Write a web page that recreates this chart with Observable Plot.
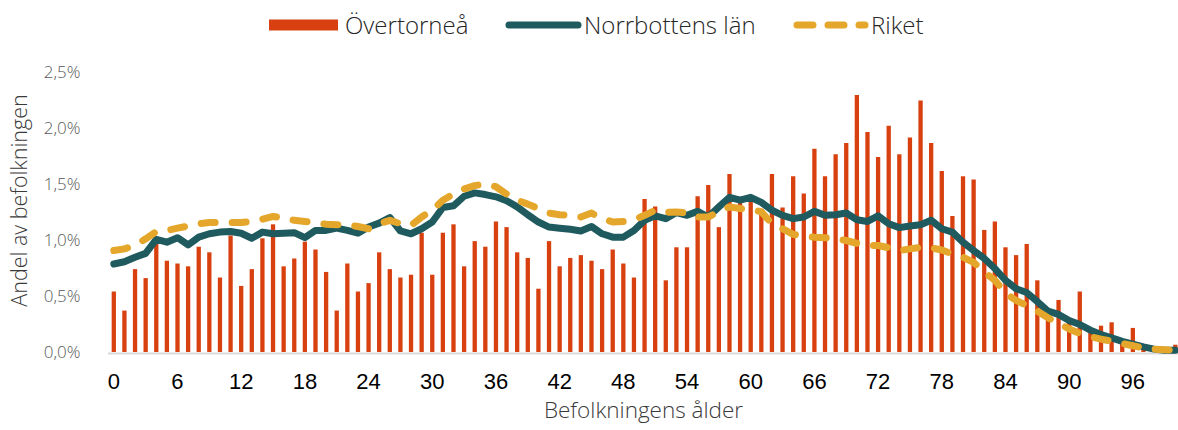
<!DOCTYPE html>
<html><head><meta charset="utf-8">
<script src="https://cdn.jsdelivr.net/npm/d3@7"></script>
<script src="https://cdn.jsdelivr.net/npm/@observablehq/plot@0.6"></script>
<style>
body{margin:0;background:#fff;width:1178px;height:430px;overflow:hidden;font-family:"Open Sans",sans-serif;}
#legend{position:relative;height:50px;}
.lt{position:absolute;top:25px;transform:translateY(-50%);font-size:24px;font-weight:300;color:#262626;line-height:1;white-space:nowrap;}
.sw{position:absolute;}
</style></head><body>
<div id="legend"></div><div id="chart"></div>
<script>
const seriesNames = ["Övertorneå", "Norrbottens län", "Riket"];
const ages = d3.range(0, 101);
const overtornea = [0.54,0.37,0.74,0.66,0.98,0.815,0.79,0.765,0.94,0.89,
0.665,1.04,0.59,0.74,1.015,1.14,0.765,0.835,0.985,0.915,
0.715,0.37,0.79,0.54,0.615,0.89,0.74,0.665,0.69,1.065,
0.69,1.065,1.14,0.765,0.99,0.94,1.165,1.115,0.89,0.84,
0.565,0.99,0.765,0.84,0.865,0.815,0.74,0.915,0.79,0.665,
1.365,1.30,0.64,0.935,0.935,1.39,1.49,1.115,1.59,1.35,
1.35,1.28,1.59,1.29,1.57,1.415,1.815,1.57,1.765,1.865,
2.295,1.965,1.74,2.02,1.765,1.915,2.245,1.865,1.615,1.215,
1.57,1.54,1.09,1.165,0.935,0.865,0.965,0.64,0.38,0.465,
0.27,0.54,0.17,0.235,0.265,0.115,0.215,0.06,0.03,0.02,0.065];
const norrbotten = [0.79,0.81,0.85,0.885,1.01,0.985,1.025,0.96,1.03,1.06,
1.075,1.08,1.065,1.02,1.075,1.06,1.065,1.07,1.025,1.09,
1.09,1.11,1.09,1.065,1.12,1.155,1.205,1.085,1.06,1.105,
1.165,1.295,1.31,1.395,1.425,1.41,1.39,1.355,1.30,1.23,
1.165,1.12,1.11,1.10,1.085,1.125,1.06,1.03,1.03,1.09,
1.18,1.22,1.195,1.25,1.225,1.26,1.21,1.30,1.385,1.36,
1.385,1.34,1.27,1.225,1.195,1.21,1.26,1.225,1.23,1.245,
1.185,1.17,1.22,1.15,1.115,1.13,1.14,1.18,1.105,1.075,
0.985,0.91,0.84,0.75,0.645,0.57,0.535,0.455,0.37,0.34,
0.285,0.25,0.20,0.16,0.13,0.10,0.075,0.05,0.03,0.02,0.02];
const riket = [0.91,0.925,0.955,1.015,1.08,1.09,1.11,1.13,1.15,1.16,
1.16,1.16,1.16,1.17,1.19,1.215,1.20,1.18,1.17,1.16,
1.145,1.14,1.14,1.125,1.105,1.15,1.18,1.15,1.135,1.21,
1.27,1.36,1.415,1.46,1.49,1.505,1.48,1.415,1.36,1.325,
1.285,1.245,1.23,1.225,1.21,1.245,1.195,1.165,1.17,1.185,
1.225,1.27,1.25,1.255,1.245,1.21,1.21,1.255,1.30,1.285,
1.28,1.255,1.15,1.105,1.055,1.04,1.03,1.025,1.015,1.00,
0.975,0.955,0.955,0.935,0.91,0.925,0.94,0.935,0.915,0.88,
0.85,0.805,0.72,0.645,0.53,0.465,0.42,0.37,0.31,0.26,
0.21,0.17,0.14,0.12,0.10,0.08,0.06,0.04,0.03,0.025,0.02];
const xTicks = [0,6,12,18,24,30,36,42,48,54,60,66,72,78,84,90,96];
const yTicks = [0,0.5,1.0,1.5,2.0,2.5];
const xTitle = "Befolkningens ålder";
const yTitle = "Andel av befolkningen";

const colors = {bar: "#d8400f", norr: "#1e5a5e", riket: "#e5a72b"};

const data = ages.map((a, i) => ({age: a, overtornea: overtornea[i], norrbotten: norrbotten[i], riket: riket[i]}));

// Legend
const legend = document.getElementById("legend");
const NS = "http://www.w3.org/2000/svg";
function addSwatch(left, w, draw) {
  const s = document.createElementNS(NS, "svg");
  s.setAttribute("width", w); s.setAttribute("height", 14);
  s.setAttribute("class", "sw");
  s.style.left = left + "px"; s.style.top = "18px";
  s.innerHTML = draw;
  legend.appendChild(s);
}
function addText(left, t) {
  const d = document.createElement("div");
  d.className = "lt"; d.style.left = left + "px"; d.textContent = t;
  legend.appendChild(d);
}
addSwatch(269, 69, `<rect x="0" y="1.5" width="69" height="11" fill="${colors.bar}"/>`);
addText(345, seriesNames[0]);
addSwatch(505, 77, `<line x1="4" y1="7" x2="73" y2="7" stroke="${colors.norr}" stroke-width="7" stroke-linecap="round"/>`);
addText(584, seriesNames[1]);
addSwatch(793, 76, `<line x1="4" y1="7" x2="72" y2="7" stroke="${colors.riket}" stroke-width="7" stroke-linecap="round" stroke-dasharray="16,15"/>`);
addText(871, seriesNames[2]);

const chart = Plot.plot({
  width: 1178, height: 380,
  marginLeft: 108, marginRight: 0, marginTop: 22, marginBottom: 78,
  style: {background: "transparent", overflow: "visible"},
  x: {type: "linear", domain: [-0.5, 100.3]},
  y: {domain: [0, 2.5]},
  marks: [
    Plot.ruleY([0], {stroke: "#d9d9d9", strokeWidth: 2, dy: 1}),
    Plot.ruleX(data, {x: "age", y1: 0, y2: "overtornea", stroke: colors.bar, strokeWidth: 4.3}),
    Plot.line(data, {x: "age", y: "norrbotten", stroke: colors.norr, strokeWidth: 7, strokeLinejoin: "round", strokeLinecap: "round"}),
    Plot.line(data, {x: "age", y: "riket", stroke: colors.riket, strokeWidth: 7, strokeDasharray: "14,17", strokeLinecap: "round", strokeLinejoin: "round"}),
    Plot.axisX({ticks: xTicks, tickSize: 0, tickPadding: 21, fontSize: 22, color: "#000", fontFamily: "Liberation Sans, Arial, sans-serif", label: null}),
    Plot.axisY({ticks: yTicks, tickSize: 0, tickPadding: 28, fontSize: 17, color: "#595959", fontFamily: "Open Sans, sans-serif", fontWeight: 300,
      tickFormat: d => d.toFixed(1).replace(".", ",") + "%", label: null}),
    Plot.text([xTitle], {text: d => d, frameAnchor: "bottom", dy: 65, fontSize: 22.5, fontWeight: 300, fontFamily: "Open Sans, sans-serif", fill: "#3a3a3a", textAnchor: "middle"}),
    Plot.text([yTitle], {text: d => d, frameAnchor: "left", dx: -88, dy: -12, rotate: -90, fontSize: 21.5, fontWeight: 300, fontFamily: "Open Sans, sans-serif", fill: "#3a3a3a", textAnchor: "middle"})
  ]
});
document.getElementById("chart").appendChild(chart);
</script>
</body></html>
